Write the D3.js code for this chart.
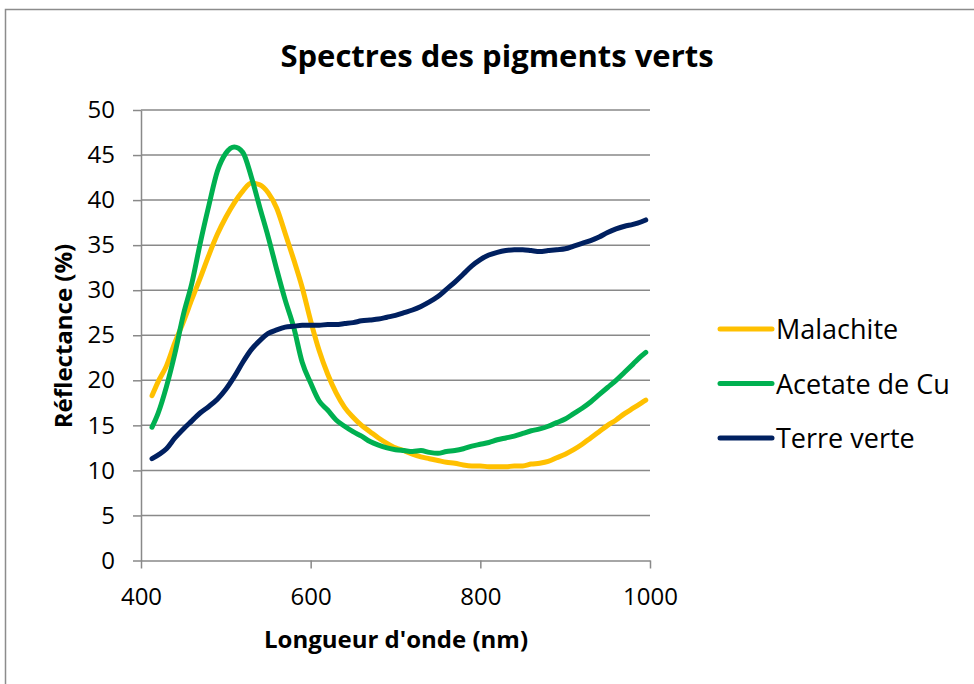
<!DOCTYPE html>
<html>
<head>
<meta charset="utf-8">
<script src="https://cdn.jsdelivr.net/npm/d3@7/dist/d3.min.js"></script>
<style>
  html, body { margin: 0; padding: 0; background: #fff; }
  svg { display: block; font-family: "Open Sans", Lato, sans-serif; }
</style>
</head>
<body>
<svg id="chart" width="974" height="684"></svg>
<script>
// Wavelengths (nm) shared by all spectra
const wavelengths = [413, 420, 430, 440, 450, 460, 470, 480, 490, 500, 510, 520, 530, 540, 550, 560, 570, 580, 590, 600,
  610, 620, 630, 640, 650, 660, 670, 680, 690, 700, 710, 720, 730, 740, 750, 760, 770, 780, 790, 800,
  810, 820, 830, 840, 850, 860, 870, 880, 890, 900, 910, 920, 930, 940, 950, 960, 970, 980, 990, 995];

// Reflectance (%) of each pigment
const malachite = [18.3, 19.8, 21.6, 24.2, 26.5, 29.0, 31.4, 33.9, 36.2, 38.1, 39.7, 41.0, 41.9, 41.7, 40.8, 39.1, 36.3, 33.4, 30.3, 26.6,
  23.3, 20.7, 18.6, 17.0, 15.9, 15.0, 14.3, 13.6, 13.0, 12.5, 12.2, 11.8, 11.5, 11.3, 11.1, 10.9, 10.8, 10.6, 10.5, 10.5,
  10.4, 10.4, 10.4, 10.5, 10.5, 10.7, 10.8, 11.0, 11.4, 11.8, 12.3, 12.9, 13.6, 14.3, 15.0, 15.6, 16.3, 16.9, 17.5, 17.8];

const acetateCu = [14.8, 16.3, 19.3, 23.0, 27.3, 30.8, 35.3, 39.4, 43.2, 45.2, 45.9, 45.3, 42.6, 39.2, 35.9, 32.3, 28.9, 25.9, 22.0, 19.7,
  17.7, 16.7, 15.6, 14.9, 14.3, 13.8, 13.2, 12.8, 12.5, 12.3, 12.2, 12.1, 12.2, 12.0, 11.9, 12.1, 12.2, 12.4, 12.7, 12.9,
  13.1, 13.4, 13.6, 13.8, 14.1, 14.4, 14.6, 14.9, 15.3, 15.7, 16.3, 16.9, 17.6, 18.4, 19.2, 20.0, 20.9, 21.8, 22.7, 23.1];

const terreVerte = [11.3, 11.7, 12.4, 13.6, 14.6, 15.5, 16.4, 17.1, 17.9, 19.0, 20.4, 22.0, 23.4, 24.4, 25.2, 25.6, 25.9, 26.0, 26.1, 26.1,
  26.1, 26.2, 26.2, 26.3, 26.4, 26.6, 26.7, 26.8, 27.0, 27.2, 27.5, 27.8, 28.2, 28.7, 29.3, 30.1, 30.9, 31.8, 32.7, 33.4,
  33.9, 34.2, 34.4, 34.5, 34.5, 34.4, 34.3, 34.4, 34.5, 34.6, 34.9, 35.2, 35.5, 35.9, 36.4, 36.8, 37.1, 37.3, 37.6, 37.8];

const seriesNames = ["Malachite", "Acetate de Cu", "Terre verte"];
const seriesColors = ["#FFC000", "#00B050", "#002060"];
const seriesValues = [malachite, acetateCu, terreVerte];

const xTicks = [400, 600, 800, 1000];
const yTicks = [0, 5, 10, 15, 20, 25, 30, 35, 40, 45, 50];

const titleText = "Spectres des pigments verts";
const xTitle = "Longueur d'onde (nm)";
const yTitle = "Réflectance (%)";

const svg = d3.select("#chart");
const gridColor = "#898989";
const font = "'Open Sans', Lato, sans-serif";

// Chart frame (extends past the right and bottom edges)
svg.append("rect")
  .attr("x", 5.5).attr("y", 9.5)
  .attr("width", 1000).attr("height", 700)
  .attr("fill", "#fff")
  .attr("stroke", "#8c8c8c")
  .attr("stroke-width", 1.5);

const plot = { left: 141, right: 650, top: 110, bottom: 560.5 };

const x = d3.scaleLinear().domain([400, 1000]).range([plot.left, plot.right]);
const y = d3.scaleLinear().domain([0, 50]).range([plot.bottom, plot.top]);

// Horizontal gridlines
svg.append("g")
  .selectAll("line")
  .data(yTicks.filter(d => d > 0))
  .join("line")
  .attr("x1", plot.left).attr("x2", plot.right)
  .attr("y1", d => y(d)).attr("y2", d => y(d))
  .attr("stroke", gridColor).attr("stroke-width", 1.5);

// Y axis
const yAxis = svg.append("g")
  .attr("transform", `translate(${plot.left},0)`)
  .call(d3.axisLeft(y).tickValues(yTicks).tickSize(8).tickPadding(18).tickSizeOuter(0));
yAxis.select(".domain").attr("stroke", gridColor).attr("stroke-width", 1.5);
yAxis.selectAll(".tick line").attr("stroke", gridColor).attr("stroke-width", 1.5);
yAxis.selectAll(".tick text")
  .attr("font-size", 24).attr("fill", "#000").attr("font-family", font);

// X axis
const xAxis = svg.append("g")
  .attr("transform", `translate(0,${plot.bottom})`)
  .call(d3.axisBottom(x).tickValues(xTicks).tickFormat(d3.format("d"))
    .tickSize(8).tickPadding(19).tickSizeOuter(0));
xAxis.select(".domain").attr("stroke", gridColor).attr("stroke-width", 1.5);
xAxis.selectAll(".tick line").attr("stroke", gridColor).attr("stroke-width", 1.5);
xAxis.selectAll(".tick text")
  .attr("font-size", 24).attr("fill", "#000").attr("font-family", font);

// Spectra
const line = d3.line()
  .x((d, i) => x(wavelengths[i]))
  .y(d => y(d))
  .curve(d3.curveMonotoneX);

svg.append("g")
  .selectAll("path")
  .data(seriesValues)
  .join("path")
  .attr("d", d => line(d))
  .attr("fill", "none")
  .attr("stroke", (d, i) => seriesColors[i])
  .attr("stroke-width", 5)
  .attr("stroke-linecap", "round")
  .attr("stroke-linejoin", "round");

// Title
svg.append("text")
  .attr("x", 497).attr("y", 67)
  .attr("text-anchor", "middle")
  .attr("font-size", 31).attr("font-weight", "bold")
  .text(titleText);

// Axis titles
svg.append("text")
  .attr("x", 396).attr("y", 648)
  .attr("text-anchor", "middle")
  .attr("font-size", 24).attr("font-weight", "bold")
  .text(xTitle);

svg.append("text")
  .attr("transform", "translate(72,336) rotate(-90)")
  .attr("text-anchor", "middle")
  .attr("font-size", 24).attr("font-weight", "bold")
  .text(yTitle);

// Legend
const legend = svg.append("g")
  .selectAll("g")
  .data(seriesNames)
  .join("g")
  .attr("transform", (d, i) => `translate(718,${329 + i * 54.5})`);

legend.append("line")
  .attr("x1", 2).attr("x2", 54)
  .attr("y1", 0).attr("y2", 0)
  .attr("stroke", (d, i) => seriesColors[i])
  .attr("stroke-width", 5)
  .attr("stroke-linecap", "round");

legend.append("text")
  .attr("x", 58).attr("y", 10)
  .attr("font-size", 27)
  .text(d => d);
</script>
</body>
</html>
